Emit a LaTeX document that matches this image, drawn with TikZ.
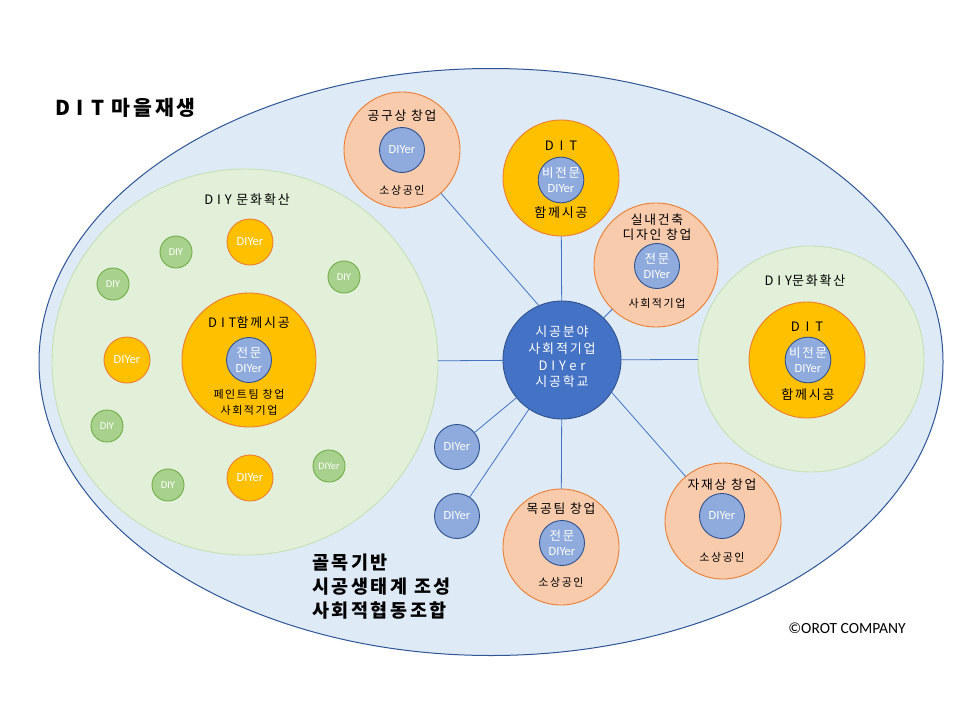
\documentclass[tikz,border=0pt]{standalone}
\usepackage{fontspec}
\usetikzlibrary{shapes.geometric}
\newfontfamily\kr[LetterSpace=14]{Noto Sans CJK KR}
\newfontfamily\krL[LetterSpace=45]{Noto Sans CJK KR}
\newfontfamily\krTi[LetterSpace=34]{Noto Sans CJK KR}
\newfontfamily\krM[LetterSpace=30]{Noto Sans CJK KR}
\newfontfamily\calfont{Carlito}
\newcommand\krT{\kr\fontsize{12.8}{14}\selectfont}
\newcommand\krS{\kr\fontsize{11}{12}\selectfont}
\definecolor{ellF}{HTML}{DEEBF7}
\definecolor{ellB}{HTML}{2F5597}
\definecolor{grnF}{HTML}{E2F0D9}
\definecolor{grnB}{HTML}{C5E0B4}
\definecolor{orgF}{HTML}{FFC000}
\definecolor{orgB}{HTML}{ED7D31}
\definecolor{pchF}{HTML}{F8CBAD}
\definecolor{bluS}{HTML}{8FAADC}
\definecolor{bluB}{HTML}{2F528F}
\definecolor{bluC}{HTML}{4472C4}
\definecolor{diyF}{HTML}{A9D18E}
\definecolor{diyB}{HTML}{70AD47}
\definecolor{lnC}{HTML}{4472C4}
\tikzset{
  every node/.style={inner sep=0pt, outer sep=0pt},
  ring/.style={circle, line width=0.9pt, minimum size=#1},
  peach/.style={ring=116pt, fill=pchF, draw=orgB},
  gold/.style={ring=#1, fill=orgF, draw=orgB},
  inb/.style={ring=45pt, fill=bluS, draw=bluB, text=white, align=center, font=\calfont\fontsize{12.5}{15}\selectfont},
  odiy/.style={ring=46pt, fill=orgF, draw=orgB, text=white, font=\calfont\fontsize{12.5}{14}\selectfont},
  gdiy/.style={ring=32pt, fill=diyF, draw=diyB, text=white, font=\calfont\fontsize{10.5}{12}\selectfont},
  bigg/.style={ring=#1, fill=grnF, draw=grnB},
  lab/.style={text=black, align=center},
  conn/.style={draw=lnC, line width=0.8pt},
}
\begin{document}
\begin{tikzpicture}[x=1pt,y=-1pt]
\useasboundingbox (0,0) rectangle (960,720);
\fill[white] (0,0) rectangle (960,720);
% outer ellipse
\node[ellipse, draw=ellB, fill=ellF, line width=1pt, minimum width=904pt, minimum height=587pt] (ell) at (491,362) {};
\node[lab, anchor=west] (title) at (55,108) {{\krTi\bfseries\fontsize{20.5}{24}\selectfont DIT}{\kr\bfseries\fontsize{20.5}{24}\selectfont\ 마을재생}};

% left green area
\node[bigg=386pt] (lg) at (245,362) {};
\node[lab] (lgT) at (247,200) {{\krM\fontsize{13}{14}\selectfont DIY}{\kr\fontsize{13}{14}\selectfont\ 문화확산}};
\node[gdiy] (d1) at (176,252) {DIY};
\node[odiy] (o1) at (250,242) {DIYer};
\node[gdiy] (d2) at (113,284) {DIY};
\node[gdiy] (d3) at (344,277) {DIY};
\node[odiy] (o2) at (127,360) {DIYer};
\node[gdiy] (d4) at (107,426) {DIY};
\node[gdiy] (d5) at (168,485) {DIY};
\node[odiy] (o3) at (250,478) {DIYer};
\node[gdiy, font=\calfont\fontsize{10}{12}\selectfont] (d6) at (329,466) {DIYer};
\node[gold=134pt] (lo) at (249,360) {};
\node[inb] (loi) at (249,360) {{\kr\fontsize{12.5}{15}\selectfont 전문}\\DIYer};
\node[lab] (loT) at (249,323) {{\krM\fontsize{13}{14}\selectfont DIT}{\kr\fontsize{13}{14}\selectfont 함께시공}};
\node[lab] (loB1) at (249,394) {\kr\fontsize{11}{12}\selectfont 페인트팀 창업};
\node[lab] (loB2) at (249,410) {\kr\fontsize{11}{12}\selectfont 사회적기업};

% top: tool shop
\node[peach] (gg) at (402,150) {};
\node[inb] (ggi) at (402,150) {DIYer};
\node[lab] (ggT) at (402,116) {\krT 공구상 창업};
\node[lab] (ggB) at (402,190) {\krS 소상공인};

% top: DIT
\node[gold=116pt] (dt) at (561,178) {};
\node[inb] (dti) at (561,180) {{\kr\fontsize{12.5}{15}\selectfont 비전문}\\DIYer};
\node[lab] (dtT) at (561,146) {\krL\fontsize{13}{14}\selectfont DIT};
\node[lab] (dtB) at (561,213) {\kr\fontsize{13}{14}\selectfont 함께시공};

% interior design
\node[ring=124pt, fill=pchF, draw=orgB] (sn) at (656,265) {};
\node[inb] (sni) at (657,266) {{\kr\fontsize{12.5}{15}\selectfont 전문}\\DIYer};
\node[lab, font=\kr\fontsize{12.8}{15}\selectfont] (snT) at (657,227) {실내건축\\디자인 창업};
\node[lab] (snB) at (657,303) {\krS 사회적기업};

% right green area
\node[bigg=226pt] (rg) at (811,359) {};
\node[lab] (rgT) at (805,281) {{\krM\fontsize{13}{14}\selectfont DIY}{\kr\fontsize{13}{14}\selectfont 문화확산}};
\node[gold=116pt] (ro) at (807,360) {};
\node[inb] (roi) at (808,360) {{\kr\fontsize{12.5}{15}\selectfont 비전문}\\DIYer};
\node[lab] (roT) at (807,327) {\krL\fontsize{13}{14}\selectfont DIT};
\node[lab] (roB) at (808,395) {\kr\fontsize{13}{14}\selectfont 함께시공};

% centre
\node[ring=118pt, fill=bluC, draw=bluB] (cen) at (562,360) {};
\node[lab, text=white, font=\kr\fontsize{13}{16.6}\selectfont] (cenT) at (562,357) {시공분야\\사회적기업\\{\krM DIYer}\\시공학교};

% lower small DIYers
\node[inb] (b1) at (457,447) {DIYer};
\node[inb] (b2) at (457,516) {DIYer};

% woodwork
\node[peach] (mg) at (561,547) {};
\node[inb] (mgi) at (562,543) {{\kr\fontsize{12.5}{15}\selectfont 전문}\\DIYer};
\node[lab] (mgT) at (561,509) {\krT 목공팀 창업};
\node[lab] (mgB) at (561,582) {\krS 소상공인};

% materials
\node[peach] (jj) at (723,521) {};
\node[inb] (jji) at (722,516) {DIYer};
\node[lab] (jjT) at (722,485) {\krT 자재상 창업};
\node[lab] (jjB) at (722,557) {\krS 소상공인};

% connectors
\draw[conn] (cen) -- (lg);
\draw[conn] (cen) -- (rg);
\draw[conn] (cen) -- (dt);
\draw[conn] (cen) -- (sn);
\draw[conn] (gg.-48) -- (cen.113);
\draw[conn] (cen.-33) -- (jj.130);
\draw[conn] (cen) -- (mg);
\draw[conn] (cen) -- (b1);
\draw[conn] (cen) -- (b2);

% bottom text
\node[lab, anchor=west, align=left, font=\kr\bfseries\fontsize{18.5}{24}\selectfont] (bt) at (312,587) {골목기반\\시공생태계 조성\\사회적협동조합};
\node[lab] (copy) at (847,628) {\calfont\fontsize{15.5}{17}\selectfont ©OROT COMPANY};
\end{tikzpicture}
\end{document}
